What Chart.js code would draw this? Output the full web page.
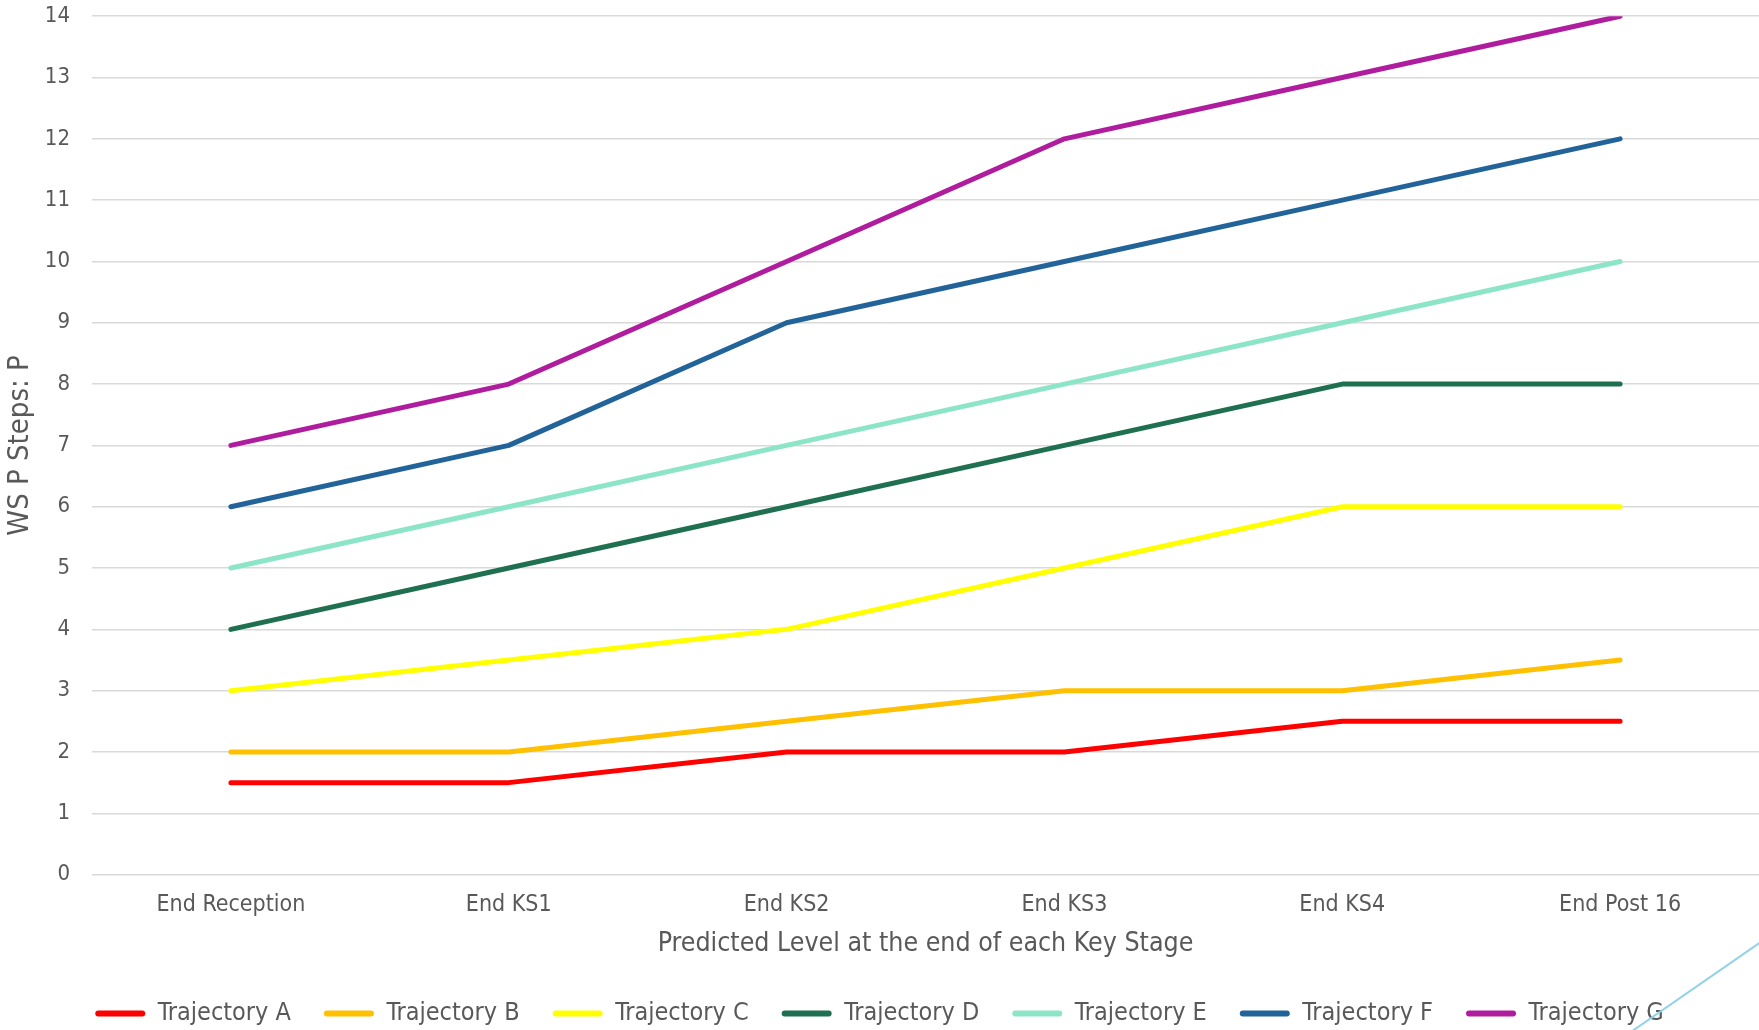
<!DOCTYPE html>
<html>
<head>
<meta charset="utf-8">
<script src="https://cdn.jsdelivr.net/npm/chart.js@4"></script>
<style>
    html, body { margin: 0; padding: 0; background: #fff; overflow: hidden; }
    #wrap { position: relative; width: 1759px; height: 1030px; overflow: hidden; }
    #line_chart { position: absolute; left: 0; top: -19px; }
    #deco { position: absolute; left: 1632px; top: 1030px; width: 160px; height: 1.5px;
            background: #8fd3ea; transform-origin: 0 0; transform: rotate(-34.7deg); }
</style>
</head>
<body>
<div id="wrap">
    <canvas id="line_chart" width="1759" height="1049"></canvas>
    <div id="deco"></div>
</div>
<script>
// categories and series
const etapas = ["End Reception", "End KS1", "End KS2", "End KS3", "End KS4", "End Post 16"];
const trayA = [1.5, 1.5, 2, 2, 2.5, 2.5];
const trayB = [2, 2, 2.5, 3, 3, 3.5];
const trayC = [3, 3.5, 4, 5, 6, 6];
const trayD = [4, 5, 6, 7, 8, 8];
const trayE = [5, 6, 7, 8, 9, 10];
const trayF = [6, 7, 9, 10, 11, 12];
const trayG = [7, 8, 10, 12, 13, 14];
const yTicks = [0, 1, 2, 3, 4, 5, 6, 7, 8, 9, 10, 11, 12, 13, 14];

const fuente = "'DejaVu Sans Condensed', 'DejaVu Sans', sans-serif";
const gris = '#595959';

function serie(label, data, color) {
    return {
        label: label,
        data: data,
        borderColor: color,
        backgroundColor: color,
        borderWidth: 5,
        borderCapStyle: 'round',
        borderJoinStyle: 'round',
        pointRadius: 0,
        fill: false,
        tension: 0
    };
}

new Chart(document.getElementById("line_chart").getContext("2d"), {
    type: 'line',
    data: {
        labels: etapas,
        datasets: [
            serie("Trajectory A", trayA, '#ff0000'),
            serie("Trajectory B", trayB, '#ffc000'),
            serie("Trajectory C", trayC, '#ffff00'),
            serie("Trajectory D", trayD, '#1f7050'),
            serie("Trajectory E", trayE, '#8de5c8'),
            serie("Trajectory F", trayF, '#22649a'),
            serie("Trajectory G", trayG, '#b01c9e')
        ]
    },
    options: {
        responsive: false,
        animation: false,
        layout: { padding: { top: 0, right: 0, left: 0, bottom: -6 } },
        plugins: {
            tooltip: { enabled: false },
            legend: {
                position: 'bottom',
                labels: {
                    color: gris,
                    font: { family: fuente, size: 25 },
                    boxWidth: 50,
                    boxHeight: 6,
                    padding: 33,
                    useBorderRadius: true,
                    borderRadius: 3,
                    generateLabels: chart => Chart.defaults.plugins.legend.labels.generateLabels(chart)
                        .map(item => Object.assign(item, { lineWidth: 0 }))
                }
            }
        },
        scales: {
            x: {
                offset: true,
                grid: { display: false },
                border: { display: false },
                ticks: { color: gris, font: { family: fuente, size: 23 }, padding: 9 },
                title: {
                    display: true,
                    text: 'Predicted Level at the end of each Key Stage',
                    color: gris,
                    font: { family: fuente, size: 26.5 },
                    padding: { top: 0, bottom: 8 }
                }
            },
            y: {
                min: 0,
                max: 14,
                afterBuildTicks: axis => { axis.ticks = yTicks.map(v => ({ value: v })); },
                afterFit: axis => { axis.width = 92; },
                grid: { color: '#d9d9d9', lineWidth: 1.5, drawTicks: false },
                border: { display: false },
                ticks: { color: gris, font: { family: fuente, size: 22 }, padding: 22 },
                title: {
                    display: true,
                    text: 'WS P Steps: P',
                    color: gris,
                    font: { family: fuente, size: 29 },
                    padding: { top: 3, bottom: 8 }
                }
            }
        }
    }
});
</script>
</body>
</html>
